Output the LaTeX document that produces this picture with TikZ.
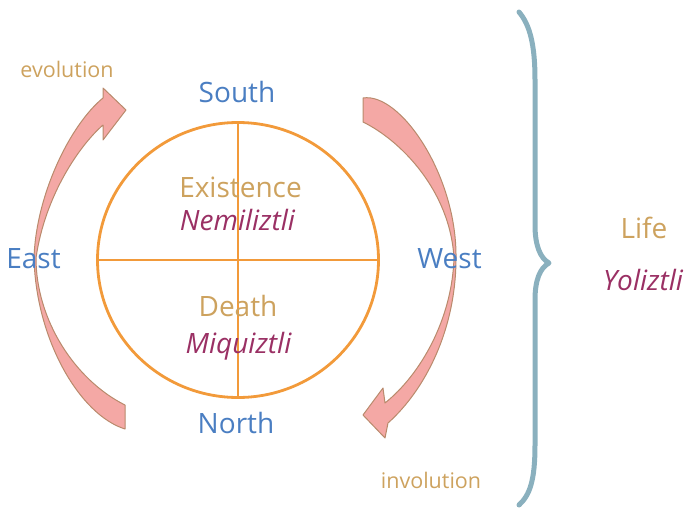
\documentclass[tikz,border=0pt]{standalone}
\usepackage{fontspec}
\setmainfont{Open Sans}
\usetikzlibrary{shapes.geometric}
\definecolor{dirblue}{HTML}{4A7EC2}
\definecolor{tanc}{HTML}{CDA25E}
\definecolor{plum}{HTML}{9A3064}
\definecolor{ring}{HTML}{F29A3A}
\definecolor{arrowfill}{HTML}{F4A8A5}
\definecolor{arrowedge}{HTML}{B98A6C}
\definecolor{bracec}{HTML}{8AB0BE}
\tikzset{
  compass/.style={text=dirblue, font=\fontsize{28}{32}\selectfont, anchor=base, inner sep=0pt},
  tanlabel/.style={text=tanc, font=\fontsize{28}{32}\selectfont, anchor=base, inner sep=0pt},
  native/.style={text=plum, font=\fontsize{28}{32}\selectfont\itshape, anchor=base, inner sep=0pt},
  flow/.style={text=tanc, font=\fontsize{21.5}{25}\selectfont, anchor=base, inner sep=0pt},
  arrowshape/.style={fill=arrowfill, draw=arrowedge, line width=1pt, line join=round},
  ringline/.style={draw=ring, line width=2.8pt},
  bracestyle/.style={draw=bracec, line width=5pt, line cap=round, line join=round}
}
\begin{document}
\begin{tikzpicture}[x=1pt, y=-1pt]
\useasboundingbox (0,0) rectangle (689,525);
% circle with cross
\node[ellipse, ringline, minimum width=281pt, minimum height=275pt, inner sep=0pt, outer sep=0pt] (wheel) at (238,260) {};
\draw[ringline] (wheel.north) -- (wheel.south);
\draw[ringline] (wheel.west) -- (wheel.east);
% evolution arrow (left)
\draw[arrowshape] (125,429) .. controls (80,415) and (36,340) .. (34,258)
  .. controls (36,195) and (70,125) .. (103,98)
  -- (103,88) -- (126,110) -- (103,140) -- (103,125)
  .. controls (80,145) and (45,195) .. (36,258)
  .. controls (36,320) and (75,380) .. (125,405)
  -- cycle;
% involution arrow (right)
\draw[arrowshape] (363,98) .. controls (400,92) and (457,175) .. (456,258)
  .. controls (456,330) and (425,390) .. (388,423)
  -- (385,438) -- (363,415) -- (383,388) -- (385,403)
  .. controls (420,375) and (452,320) .. (454,258)
  .. controls (450,190) and (400,140) .. (363,122)
  -- cycle;
% brace
\draw[bracestyle] (519,12) .. controls (530,25) and (535,45) .. (535,80)
  -- (535,225) .. controls (535,245) and (540,258) .. (549,263)
  .. controls (540,268) and (535,280) .. (535,300)
  -- (535,445) .. controls (535,480) and (530,495) .. (519,505);
% labels
\node[compass] (south) at (237,102) {South};
\node[compass] (north) at (236,433) {North};
\node[compass] (east) at (33.5,268) {East};
\node[compass] (west) at (449.5,268) {West};
\node[tanlabel] (exist) at (240.5,197) {Existence};
\node[native] (nemi) at (237.5,230) {Nemiliztli};
\node[tanlabel] (death) at (238,316) {Death};
\node[native] (miqui) at (238.5,353) {Miquiztli};
\node[tanlabel] (life) at (644,238) {Life};
\node[native] (yoli) at (643,290) {Yoliztli};
\node[flow] (evo) at (67,77) {evolution};
\node[flow] (invo) at (431,488) {involution};
\end{tikzpicture}
\end{document}
